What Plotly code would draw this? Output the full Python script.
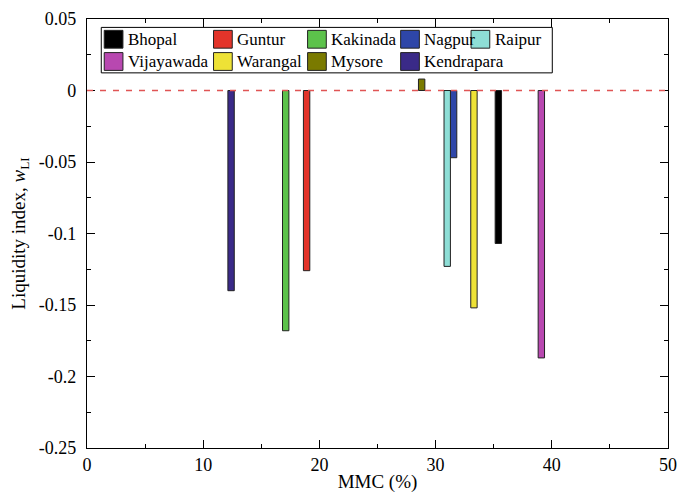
import plotly.graph_objects as go

# ---- data ----
cities = ["Bhopal", "Guntur", "Kakinada", "Nagpur", "Raipur",
          "Vijayawada", "Warangal", "Mysore", "Kendrapara"]
mmc = [35.4, 18.9, 17.1, 31.55, 31.0, 39.1, 33.3, 28.8, 12.4]
wli = [-0.107, -0.126, -0.168, -0.047, -0.123, -0.187, -0.152, 0.008, -0.140]
colors = ["#000000", "#E3342A", "#5CC24B", "#2E46A8", "#8EDED6",
          "#B848B0", "#EEE236", "#7A7A00", "#3A2A88"]

x_ticks = [0, 10, 20, 30, 40, 50]
y_ticks = [0.05, 0, -0.05, -0.1, -0.15, -0.2, -0.25]
y_ticktext = ["0.05", "0", "-0.05", "-0.1", "-0.15", "-0.2", "-0.25"]

# legend layout (pixel positions of columns / rows)
leg_col = [0, 1, 2, 3, 4, 0, 1, 2, 3]
leg_row = [0, 0, 0, 0, 0, 1, 1, 1, 1]
col_px = [104.5, 215.5, 311, 405.5, 477]
row_px = [34.5, 57]

W, H = 686, 498
ML, MR, MT, MB = 87, 9, 14, 50
PW, PH = W - ML - MR, H - MT - MB


def px(xp):
    return (xp - ML) / PW


def py(yp):
    return 1 - (yp - MT) / PH


FONT = "Liberation Serif, Times New Roman, serif"

fig = go.Figure()
for name, x, y, c in zip(cities, mmc, wli, colors):
    fig.add_trace(go.Bar(x=[x], y=[y], width=0.55, marker_color=c,
                         marker_line=dict(color="#222222", width=1),
                         showlegend=False, name=name))

# zero reference line
fig.add_shape(type="line", xref="paper", yref="y", x0=0, x1=1, y0=0, y1=0,
              line=dict(color="#E05555", width=1.5, dash="6px,7px"))
# legend frame
fig.add_shape(type="rect", xref="paper", yref="paper",
              x0=px(101.5), x1=px(559.5), y0=py(68.5), y1=py(22.5),
              line=dict(color="black", width=1))
SW = 19
for name, c, ci, ri in zip(cities, colors, leg_col, leg_row):
    x0 = col_px[ci]
    yc = row_px[ri]
    fig.add_shape(type="rect", xref="paper", yref="paper",
                  x0=px(x0), x1=px(x0 + SW), y0=py(yc + 9), y1=py(yc - 9),
                  fillcolor=c, line=dict(color="#222222", width=1))
    fig.add_annotation(xref="paper", yref="paper", x=px(x0 + SW + 3), y=py(yc),
                       xanchor="left", yanchor="middle", showarrow=False,
                       text=name, font=dict(family=FONT, size=17, color="black"))

axis_common = dict(showline=True, linecolor="black", linewidth=1.3, mirror="ticks",
                   ticks="inside", ticklen=8, tickwidth=1.3, tickcolor="black",
                   showgrid=False, zeroline=False,
                   tickfont=dict(family=FONT, size=18, color="black"))
fig.update_layout(
    width=W, height=H, margin=dict(l=ML, r=MR, t=MT, b=MB),
    plot_bgcolor="white", paper_bgcolor="white", barmode="overlay",
    showlegend=False,
    font=dict(family=FONT, color="black"),
    xaxis=dict(axis_common, range=[0, 50], tickvals=x_ticks,
               minor=dict(ticks="inside", ticklen=4, dtick=5, tickcolor="black"),
               title=dict(text="MMC (%)", font=dict(family=FONT, size=19), standoff=0)),
    yaxis=dict(axis_common, range=[-0.25, 0.05], tickvals=y_ticks, ticktext=y_ticktext,
               minor=dict(ticks="inside", ticklen=4, dtick=0.025, tickcolor="black"),
               ticklabelstandoff=6,
               title=dict(text="Liquidity index, <i>w</i><sub>LI</sub>",
                          font=dict(family=FONT, size=19), standoff=8)),
)
fig.write_html("out.html")
